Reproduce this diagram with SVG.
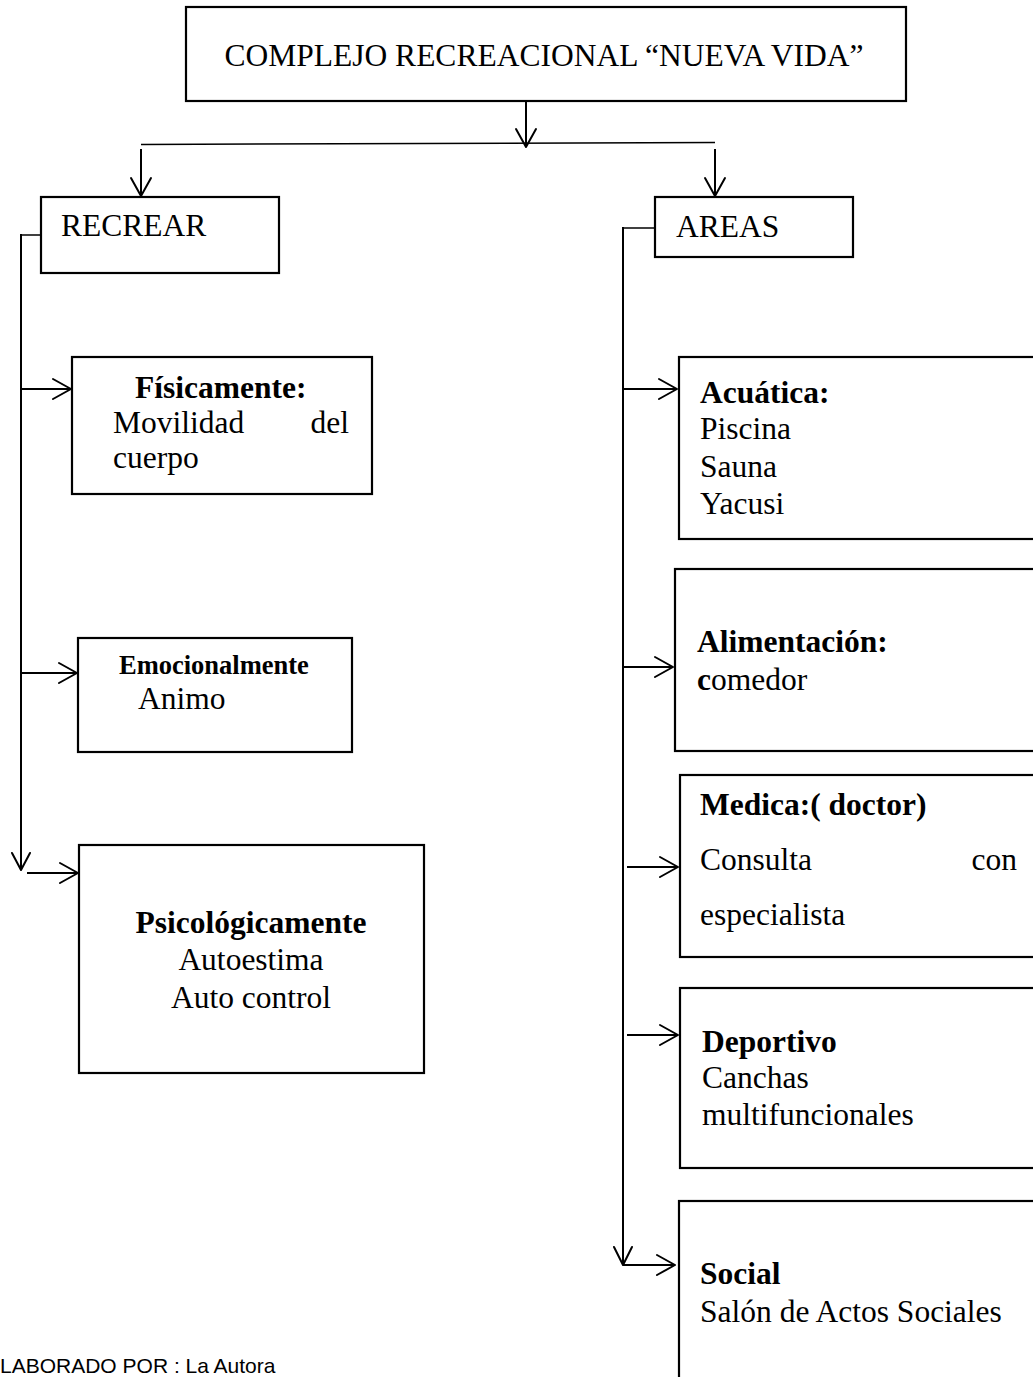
<svg xmlns="http://www.w3.org/2000/svg" width="1033" height="1377" viewBox="0 0 1033 1377">
<defs>
<style>
.box{fill:#fff;stroke:#000;stroke-width:2.2}
.ln{fill:none;stroke:#000;stroke-width:2}
.thin{fill:none;stroke:#000;stroke-width:1.5}
.ah{fill:none;stroke:#000;stroke-width:2;stroke-linecap:round;stroke-linejoin:round}
text{font-family:"Liberation Serif","Times New Roman",serif;font-size:31.5px;fill:#000}
.b{font-weight:bold}
.foot{font-family:"Liberation Sans",Arial,sans-serif;font-size:21px}
</style>
</defs>
<rect width="1033" height="1377" fill="#fff"/>

<g id="connectors">
  <!-- title down -->
  <line class="ln" x1="526" y1="101" x2="526" y2="147"/>
  <polyline class="ah" points="516,129 526,147 536,129"/>
  <line class="thin" x1="141" y1="144.5" x2="715" y2="142.5"/>
  <line class="ln" x1="141" y1="149" x2="141" y2="196"/>
  <polyline class="ah" points="131,178 141,196 151,178"/>
  <line class="ln" x1="715" y1="149" x2="715" y2="196"/>
  <polyline class="ah" points="705,178 715,196 725,178"/>

  <!-- left trunk -->
  <polyline class="thin" points="41,235 22,235"/>
  <line class="ln" x1="21" y1="234" x2="21" y2="870"/>
  <polyline class="ah" points="12,853 21,870 30,853"/>
  <line class="ln" x1="21" y1="389" x2="71" y2="389"/>
  <polyline class="ah" points="53,379 71,389 53,399"/>
  <line class="ln" x1="21" y1="673" x2="77" y2="673"/>
  <polyline class="ah" points="59,663 77,673 59,683"/>
  <line class="ln" x1="27" y1="873" x2="78" y2="873"/>
  <polyline class="ah" points="60,863 78,873 60,883"/>

  <!-- right trunk -->
  <polyline class="thin" points="655,228 623,228"/>
  <line class="ln" x1="623" y1="227" x2="623" y2="1265"/>
  <polyline class="ah" points="614,1247 623,1265 632,1247"/>
  <line class="ln" x1="623" y1="389" x2="677" y2="389"/>
  <polyline class="ah" points="659,379 677,389 659,399"/>
  <line class="ln" x1="623" y1="667" x2="673" y2="667"/>
  <polyline class="ah" points="655,657 673,667 655,677"/>
  <line class="ln" x1="627" y1="867" x2="678" y2="867"/>
  <polyline class="ah" points="660,857 678,867 660,877"/>
  <line class="ln" x1="627" y1="1035" x2="678" y2="1035"/>
  <polyline class="ah" points="660,1025 678,1035 660,1045"/>
  <line class="ln" x1="623" y1="1265" x2="675" y2="1265"/>
  <polyline class="ah" points="657,1255 675,1265 657,1275"/>
</g>

<g id="title">
  <rect class="box" x="186" y="7" width="720" height="94" stroke-width="2.6"/>
  <text x="544" y="66" text-anchor="middle">COMPLEJO RECREACIONAL “NUEVA VIDA”</text>
</g>

<g id="recrear">
  <rect class="box" x="41" y="197" width="238" height="76" stroke-width="1.5"/>
  <text x="61" y="236">RECREAR</text>
</g>

<g id="areas">
  <rect class="box" x="655" y="197" width="198" height="60" stroke-width="1.5"/>
  <text x="676" y="237">AREAS</text>
</g>

<g id="fisicamente">
  <rect class="box" x="72" y="357" width="300" height="137"/>
  <text class="b" x="135" y="398">Físicamente:</text>
  <text x="113" y="433">Movilidad</text>
  <text x="349" y="433" text-anchor="end">del</text>
  <text x="113" y="468">cuerpo</text>
</g>

<g id="emocionalmente">
  <rect class="box" x="78" y="638" width="274" height="114"/>
  <text class="b" x="119" y="674" style="font-size:26.5px">Emocionalmente</text>
  <text x="138" y="709">Animo</text>
</g>

<g id="psicologicamente">
  <rect class="box" x="79" y="845" width="345" height="228"/>
  <text class="b" x="251" y="933" text-anchor="middle">Psicológicamente</text>
  <text x="251" y="970" text-anchor="middle">Autoestima</text>
  <text x="251" y="1008" text-anchor="middle">Auto control</text>
</g>

<g id="acuatica">
  <rect class="box" x="679" y="357" width="370" height="182"/>
  <text class="b" x="700" y="403">Acuática:</text>
  <text x="700" y="439">Piscina</text>
  <text x="700" y="477">Sauna</text>
  <text x="700" y="514">Yacusi</text>
</g>

<g id="alimentacion">
  <rect class="box" x="675" y="569" width="374" height="182"/>
  <text class="b" x="697" y="652">Alimentación:</text>
  <text x="697" y="690"><tspan class="b">c</tspan>omedor</text>
</g>

<g id="medica">
  <rect class="box" x="680" y="775" width="370" height="182"/>
  <text class="b" x="700" y="815">Medica:( doctor)</text>
  <text x="700" y="870">Consulta</text>
  <text x="1017" y="870" text-anchor="end">con</text>
  <text x="700" y="925">especialista</text>
</g>

<g id="deportivo">
  <rect class="box" x="680" y="988" width="370" height="180"/>
  <text class="b" x="702" y="1052">Deportivo</text>
  <text x="702" y="1088">Canchas</text>
  <text x="702" y="1125">multifuncionales</text>
</g>

<g id="social">
  <rect class="box" x="679" y="1201" width="370" height="200"/>
  <text class="b" x="700" y="1284">Social</text>
  <text x="700" y="1322">Salón de Actos Sociales</text>
</g>

<text class="foot" x="0" y="1373">LABORADO POR : La Autora</text>
</svg>
